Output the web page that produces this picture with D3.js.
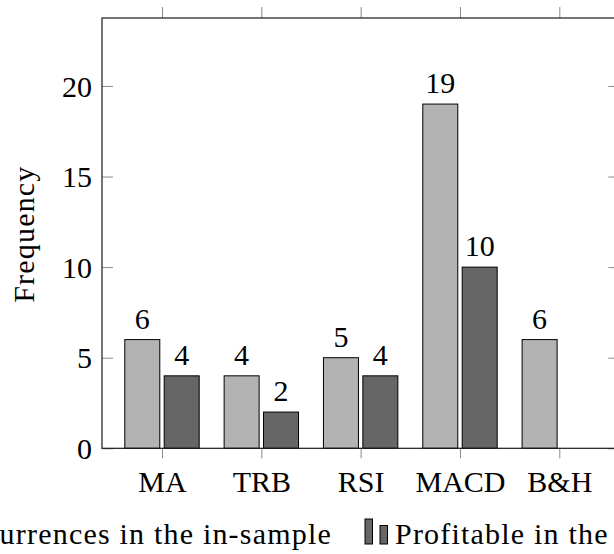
<!DOCTYPE html>
<html>
<head>
<meta charset="utf-8">
<script src="https://cdn.jsdelivr.net/npm/d3@7/dist/d3.min.js"></script>
<style>
  html, body { margin: 0; padding: 0; background: #fff; overflow: hidden; }
  svg { display: block; }
</style>
</head>
<body>
<svg id="chart" width="614" height="554"></svg>
<script>
// Strategy signal counts
const categories = ["MA", "TRB", "RSI", "MACD", "B&H"];
const inSample = [6, 4, 5, 19, 6];
const outSample = [4, 2, 4, 10, null];
const yTicks = [0, 5, 10, 15, 20];
const seriesNames = ["Occurrences in the in-sample", "Profitable in the out-of-sample"];
const yLabel = "Frequency";

const fills = ["#b3b3b3", "#666666"];
const fontSize = 30;
const wordSpacing = 1.2;
const fontFamily = "'Times New Roman', Tinos, 'Liberation Serif', 'Noto Serif', FreeSerif, Times, serif";

const svg = d3.select("#chart").attr("font-family", fontFamily);
const frame = { left: 102, right: 619.3, top: 18, bottom: 448.3 };

const x = d3.scalePoint()
  .domain(categories)
  .range([frame.left, frame.right])
  .padding(0.604);

const y = d3.scaleLinear()
  .domain([0, 23.75])
  .range([frame.bottom, frame.top]);

const barW = 35;
const offsets = [-37.2, 2.2];

// axes: ticks drawn through d3 axis generators
function styleAxis(g) {
  g.attr("font-family", fontFamily).attr("font-size", fontSize);
  g.select(".domain").remove();
  g.selectAll(".tick line").attr("stroke", "#8a8a8a").attr("stroke-width", 1);
  g.selectAll("text").attr("fill", "#000");
}

svg.append("g")
  .attr("transform", `translate(${frame.left},0)`)
  .call(d3.axisLeft(y).tickValues(yTicks).tickSize(-11).tickPadding(10))
  .call(styleAxis)
  .call(g => g.selectAll("text").attr("dy", "0.34em"));

svg.append("g")
  .attr("transform", `translate(${frame.right},0)`)
  .call(d3.axisRight(y).tickValues(yTicks).tickSize(-11).tickFormat(""))
  .call(styleAxis);

svg.append("g")
  .attr("transform", `translate(0,${frame.top})`)
  .call(d3.axisTop(x).tickSize(11).tickFormat(""))
  .call(styleAxis);

svg.append("g")
  .attr("transform", `translate(0,${frame.bottom})`)
  .call(d3.axisBottom(x).tickSize(10))
  .call(styleAxis)
  .call(g => g.selectAll("text").attr("y", 43.7).attr("dy", 0));

// bars with value labels
[inSample, outSample].forEach((vals, s) => {
  const data = categories.map((c, i) => ({ c, v: vals[i] })).filter(d => d.v != null);
  svg.append("g").selectAll("rect")
    .data(data)
    .join("rect")
    .attr("x", d => x(d.c) + offsets[s])
    .attr("width", barW)
    .attr("y", d => y(d.v))
    .attr("height", d => y(0) - y(d.v))
    .attr("fill", fills[s])
    .attr("stroke", "#000")
    .attr("stroke-width", 1);

  svg.append("g").selectAll("text")
    .data(data)
    .join("text")
    .attr("x", d => x(d.c) + offsets[s] + barW / 2)
    .attr("y", d => y(d.v) - 11)
    .attr("text-anchor", "middle")
    .attr("font-size", fontSize)
    .text(d => d.v);
});

// frame
svg.append("rect")
  .attr("x", frame.left)
  .attr("y", frame.top)
  .attr("width", frame.right - frame.left)
  .attr("height", frame.bottom - frame.top)
  .attr("fill", "none")
  .attr("stroke", "#1a1a1a")
  .attr("stroke-width", 1.2);

// y label
svg.append("text")
  .attr("transform", `translate(34,${(frame.top + frame.bottom) / 2 + 1}) rotate(-90)`)
  .attr("text-anchor", "middle")
  .attr("font-size", fontSize)
  .attr("letter-spacing", wordSpacing)
  .text(yLabel);

// legend
const legendBase = 544;
function legendIcon(g, x0, fill) {
  g.append("rect").attr("x", x0).attr("y", legendBase - 25).attr("width", 7.5).attr("height", 25)
    .attr("fill", fill).attr("stroke", "#000").attr("stroke-width", 1);
  g.append("rect").attr("x", x0 + 15).attr("y", legendBase - 18.5).attr("width", 7.5).attr("height", 18.5)
    .attr("fill", fill).attr("stroke", "#000").attr("stroke-width", 1);
}
const leg = svg.append("g");
const t1 = leg.append("text")
  .attr("x", 332).attr("y", legendBase)
  .attr("text-anchor", "end")
  .attr("font-size", fontSize)
  .attr("letter-spacing", wordSpacing)
  .text(seriesNames[0]);
const w1 = t1.node().getComputedTextLength();
legendIcon(leg, 332 - w1 - 30, fills[0]);
legendIcon(leg, 365, fills[1]);
leg.append("text")
  .attr("x", 395).attr("y", legendBase)
  .attr("font-size", fontSize)
  .attr("letter-spacing", wordSpacing)
  .text(seriesNames[1]);
</script>
</body>
</html>
